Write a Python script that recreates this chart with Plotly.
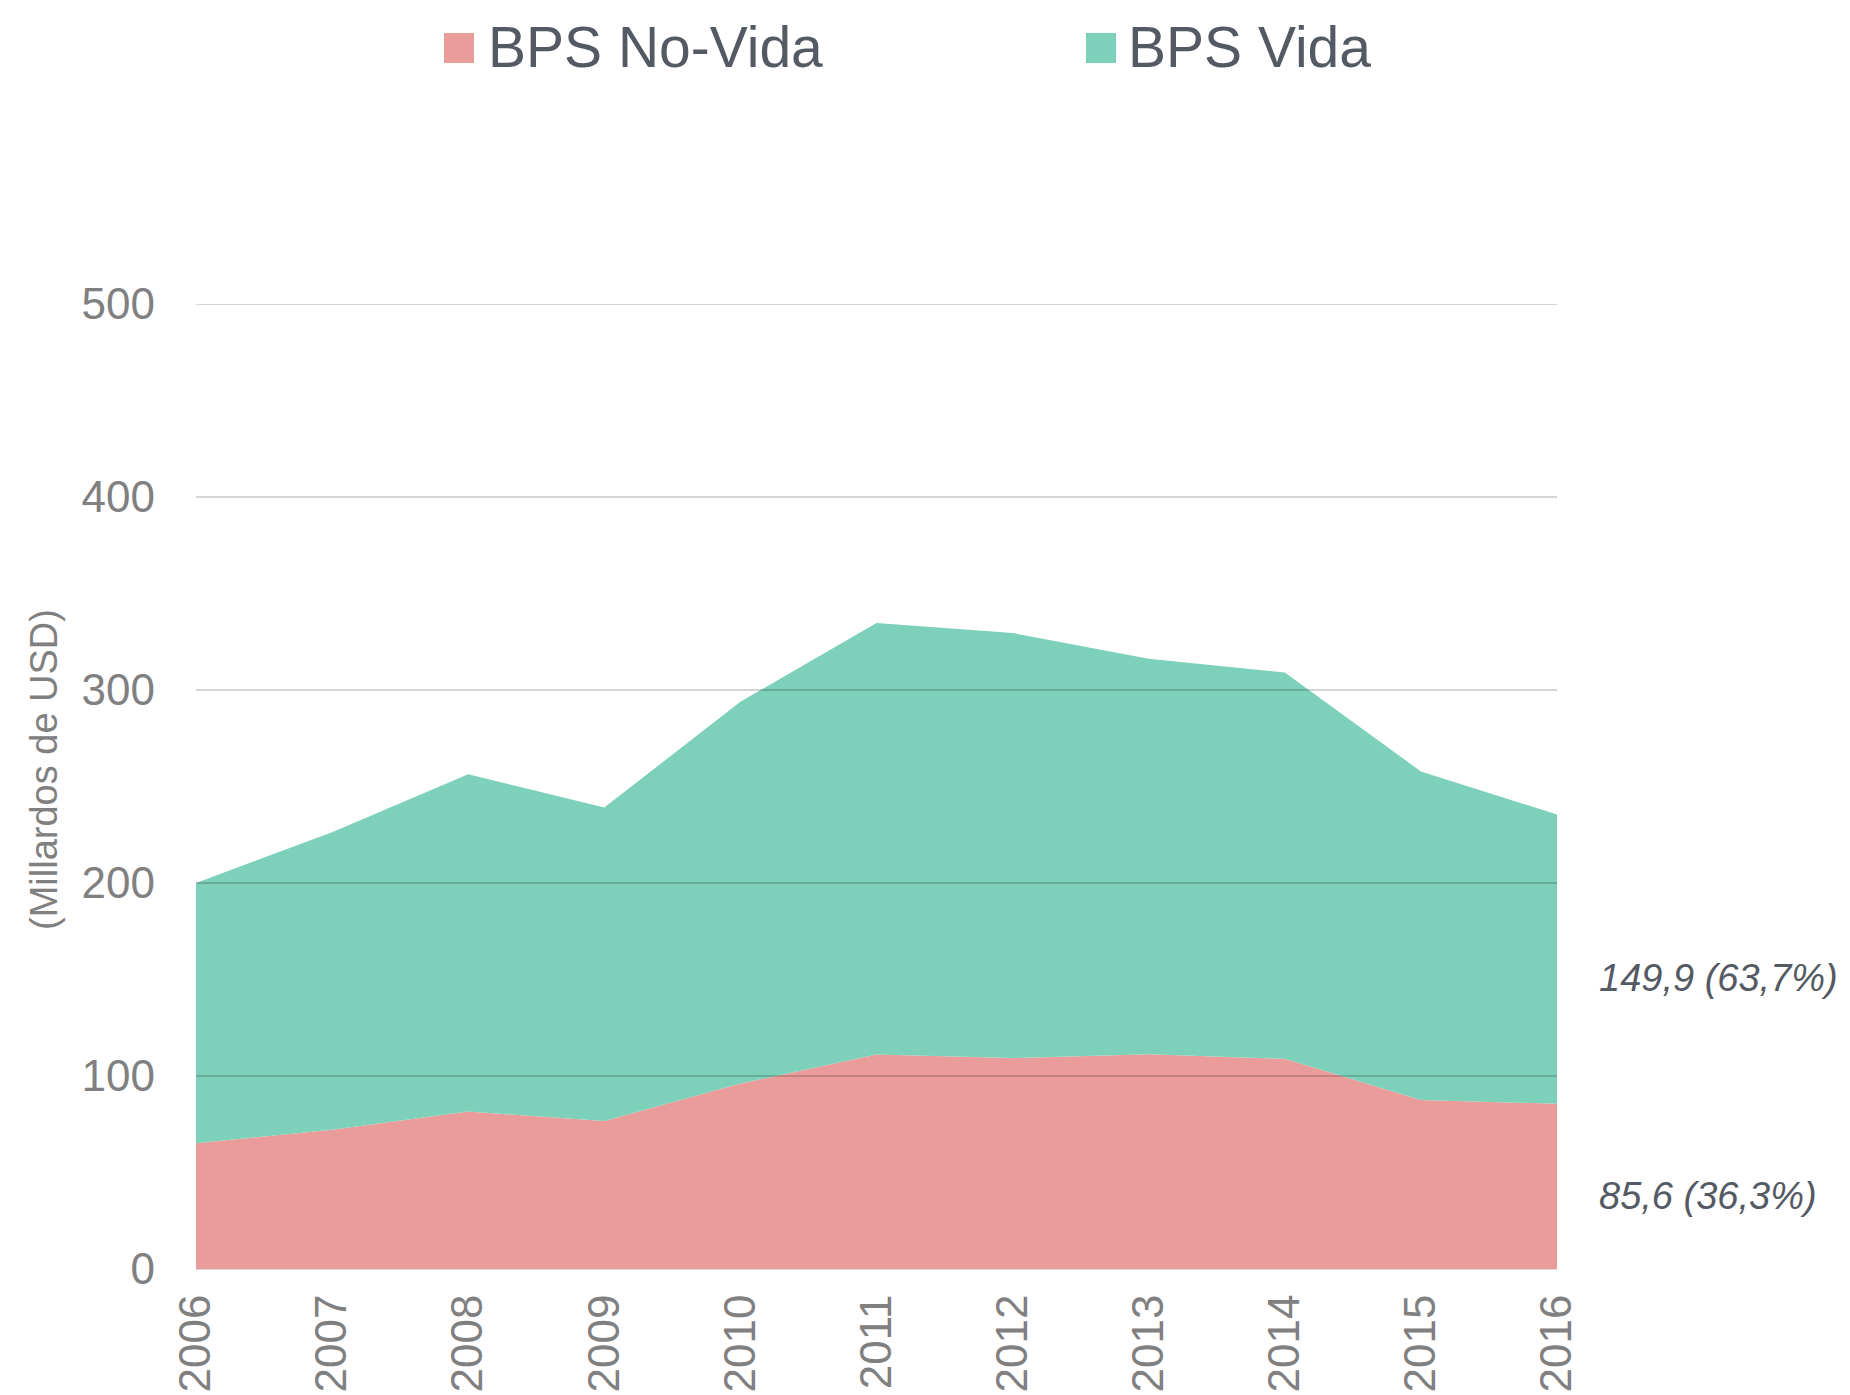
import plotly.graph_objects as go

# Primas brutas suscritas (miles de millones de USD)
years = [2006, 2007, 2008, 2009, 2010, 2011, 2012, 2013, 2014, 2015, 2016]
bps_no_vida = [65.1, 72.2, 81.6, 76.7, 96.1, 111.2, 109.3, 111.3, 108.9, 87.6, 85.6]
bps_vida = [134.9, 154.1, 174.7, 162.4, 197.8, 223.5, 220.2, 204.9, 200.2, 170.2, 149.9]
series_names = ["BPS No-Vida", "BPS Vida"]
series_colors = ["#EA9C9A", "#7DD0B9"]
y_ticks = [0, 100, 200, 300, 400, 500]
end_labels = ["85,6 (36,3%)", "149,9 (63,7%)"]
end_label_y = [38, 151]

W, H = 1850, 1395
M_L, M_R, M_T, M_B = 196, 293, 304, 126
FONT = "Liberation Sans, Arial, sans-serif"
TEXT_DARK = "#545A64"
TEXT_GREY = "#808080"

plot_w = W - M_L - M_R
plot_h = H - M_T - M_B


def px_x(x):
    return (x - M_L) / plot_w


def px_y(y):
    return (H - M_B - y) / plot_h


fig = go.Figure()
for name, vals, col in zip(series_names, [bps_no_vida, bps_vida], series_colors):
    fig.add_trace(go.Scatter(
        x=years, y=vals, name=name, mode="lines",
        stackgroup="bps", line=dict(width=0, color=col),
        fillcolor=col, showlegend=False, hoverinfo="x+y+name",
    ))

# horizontal grid drawn over the filled areas
for t in y_ticks[1:]:
    fig.add_shape(type="line", xref="paper", yref="y", x0=0, x1=1, y0=t, y1=t,
                  line=dict(color="rgba(0,0,0,0.22)", width=1.4), layer="above")

# legend row at the top
legend_items = [(444, 486), (1086, 1126)]
for (sx, tx), name, col in zip(legend_items, series_names, series_colors):
    fig.add_shape(type="rect", xref="paper", yref="paper",
                  x0=px_x(sx), x1=px_x(sx + 30), y0=px_y(63), y1=px_y(33),
                  fillcolor=col, line=dict(width=0))
    fig.add_annotation(text=name, xref="paper", yref="paper",
                       x=px_x(tx), y=px_y(47), xanchor="left", yanchor="middle",
                       showarrow=False, font=dict(family=FONT, size=57, color=TEXT_DARK))

# values at the end of the series
for txt, yv in zip(end_labels, end_label_y):
    fig.add_annotation(text=f"<i>{txt}</i>", xref="x", yref="y", x=years[-1], y=yv,
                       xanchor="left", yanchor="middle", xshift=40, showarrow=False,
                       font=dict(family=FONT, size=38, color=TEXT_DARK))

# y axis title
fig.add_annotation(text="(Millardos de USD)", xref="paper", yref="paper",
                   x=px_x(44), y=px_y(770), xanchor="center", yanchor="middle",
                   textangle=-90, showarrow=False,
                   font=dict(family=FONT, size=38, color=TEXT_GREY))

fig.update_layout(
    width=W, height=H,
    margin=dict(l=M_L, r=M_R, t=M_T, b=M_B, autoexpand=False),
    paper_bgcolor="white", plot_bgcolor="white",
    showlegend=False,
    font=dict(family=FONT, color=TEXT_GREY),
    xaxis=dict(range=[years[0], years[-1]], tickmode="array", tickvals=years,
               ticktext=[str(y) for y in years], tickangle=-90, showgrid=False,
               zeroline=False, showline=True, linecolor="#D9D9D9", linewidth=1,
               ticks="", ticklabelstandoff=7, automargin=False,
               tickfont=dict(family=FONT, size=44, color=TEXT_GREY)),
    yaxis=dict(range=[0, 500], tickmode="array", tickvals=y_ticks,
               showgrid=False, zeroline=False, showline=False, ticks="",
               ticklabelstandoff=40, automargin=False,
               tickfont=dict(family=FONT, size=44, color=TEXT_GREY)),
)

fig.write_html("out.html")
